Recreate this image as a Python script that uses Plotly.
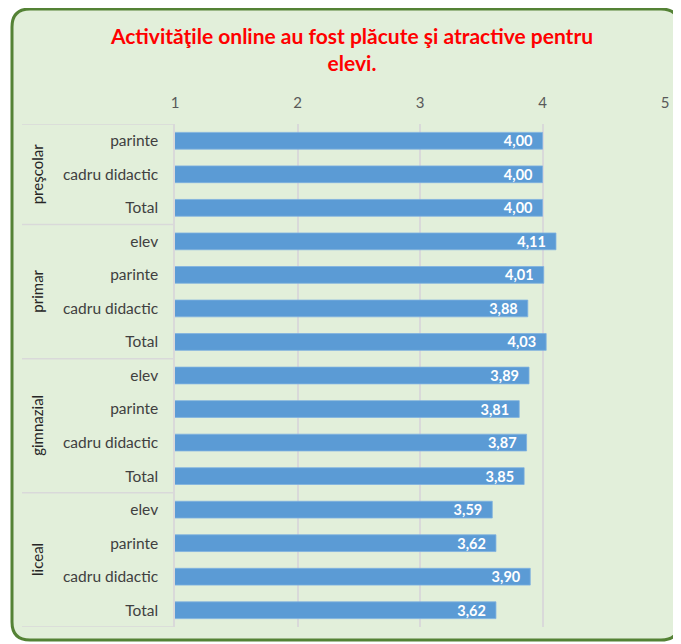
import plotly.graph_objects as go

# ---- data ----
groups = ["preşcolar", "primar", "gimnazial", "liceal"]
group_members = [
    ["parinte", "cadru didactic", "Total"],
    ["elev", "parinte", "cadru didactic", "Total"],
    ["elev", "parinte", "cadru didactic", "Total"],
    ["elev", "parinte", "cadru didactic", "Total"],
]
values = [
    [4.00, 4.00, 4.00],
    [4.11, 4.01, 3.88, 4.03],
    [3.89, 3.81, 3.87, 3.85],
    [3.59, 3.62, 3.90, 3.62],
]
x_ticks = [1, 2, 3, 4, 5]
title_text = "Activităţile online au fost plăcute şi atractive pentru<br>elevi."

# ---- flatten ----
labels, vals, pos = [], [], []
i = 0
group_centers, separators = [], [-0.5]
for g, mem, vs in zip(groups, group_members, values):
    start = i
    for m, v in zip(mem, vs):
        labels.append(m)
        vals.append(v)
        pos.append(i)
        i += 1
    group_centers.append((start + i - 1) / 2)
    separators.append(i - 0.5)

OFF = 8  # page body margin
W, H = 681 - OFF, 644 - OFF
L, R, T, B = 175 - OFF, 665 - OFF, 124 - OFF, 627 - OFF
pw, ph = R - L, B - T


def px(x):
    return (x - OFF - L) / pw


def py(y):
    return (B - (y - OFF)) / ph


fig = go.Figure()
fig.add_trace(go.Bar(
    y=pos, x=vals, orientation="h",
    marker=dict(color="#5B9BD5", line=dict(color="#7FB1E0", width=0.8)),
    width=0.5,
    text=[f"{v:.2f}".replace(".", ",") + "\u00a0\u00a0" for v in vals],
    textposition="inside", insidetextanchor="end",
    constraintext="none",
    textfont=dict(color="white", size=14.5, family="Lato", weight="bold"),
    cliponaxis=False,
    hoverinfo="skip",
))

shapes = []
# rounded background border
x0, y0, x1, y1, r = 12, 9, 679, 640, 18
rx, ry = r / pw, r / ph
X0, X1, Y0, Y1 = px(x0), px(x1), py(y0), py(y1)
path = (f"M {X0+rx},{Y0} L {X1-rx},{Y0} Q {X1},{Y0} {X1},{Y0-ry} "
        f"L {X1},{Y1+ry} Q {X1},{Y1} {X1-rx},{Y1} L {X0+rx},{Y1} "
        f"Q {X0},{Y1} {X0},{Y1+ry} L {X0},{Y0-ry} Q {X0},{Y0} {X0+rx},{Y0} Z")
shapes.append(dict(type="path", path=path, xref="paper", yref="paper",
                   fillcolor="#E2EFDA", line=dict(color="#548235", width=3),
                   layer="below"))
# group separators
for s in separators:
    shapes.append(dict(type="line", xref="paper", yref="y",
                       x0=px(22), x1=px(174), y0=s, y1=s,
                       line=dict(color="#D9D9D9", width=1.5)))

annotations = []
for g, c in zip(groups, group_centers):
    annotations.append(dict(text=g, x=px(37), y=c, xref="paper", yref="y",
                            textangle=-90, showarrow=False,
                            font=dict(size=15, color="#262626", family="Lato"),
                            xanchor="center", yanchor="middle"))

fig.update_layout(
    width=W, height=H,
    margin=dict(l=L, r=W - R, t=T, b=H - B),
    paper_bgcolor="white",
    plot_bgcolor="rgba(0,0,0,0)",
    showlegend=False,
    title=dict(text=title_text, x=(352 - OFF) / W, xanchor="center",
               y=1 - (44 - OFF) / H, yanchor="middle", yref="container",
               font=dict(size=21, color="#FF0000", family="Lato", weight="bold")),
    shapes=shapes,
    annotations=annotations,
)
fig.update_xaxes(side="top", range=[1, 5], tickvals=x_ticks,
                 showgrid=True, gridcolor="#D9D9D9", gridwidth=1.5,
                 zeroline=False, showline=False,
                 tickfont=dict(size=15, color="#595959", family="Lato"),
                 ticks="outside", ticklen=9, tickcolor="rgba(0,0,0,0)")
fig.update_yaxes(range=[14.5, -0.5], tickvals=pos, ticktext=labels,
                 showgrid=False, zeroline=False,
                 showline=True, linecolor="#D9D9D9", linewidth=1.5,
                 tickfont=dict(size=15.5, color="#404040", family="Lato"),
                 ticks="outside", ticklen=12, tickcolor="rgba(0,0,0,0)")

fig.write_html("out.html")
